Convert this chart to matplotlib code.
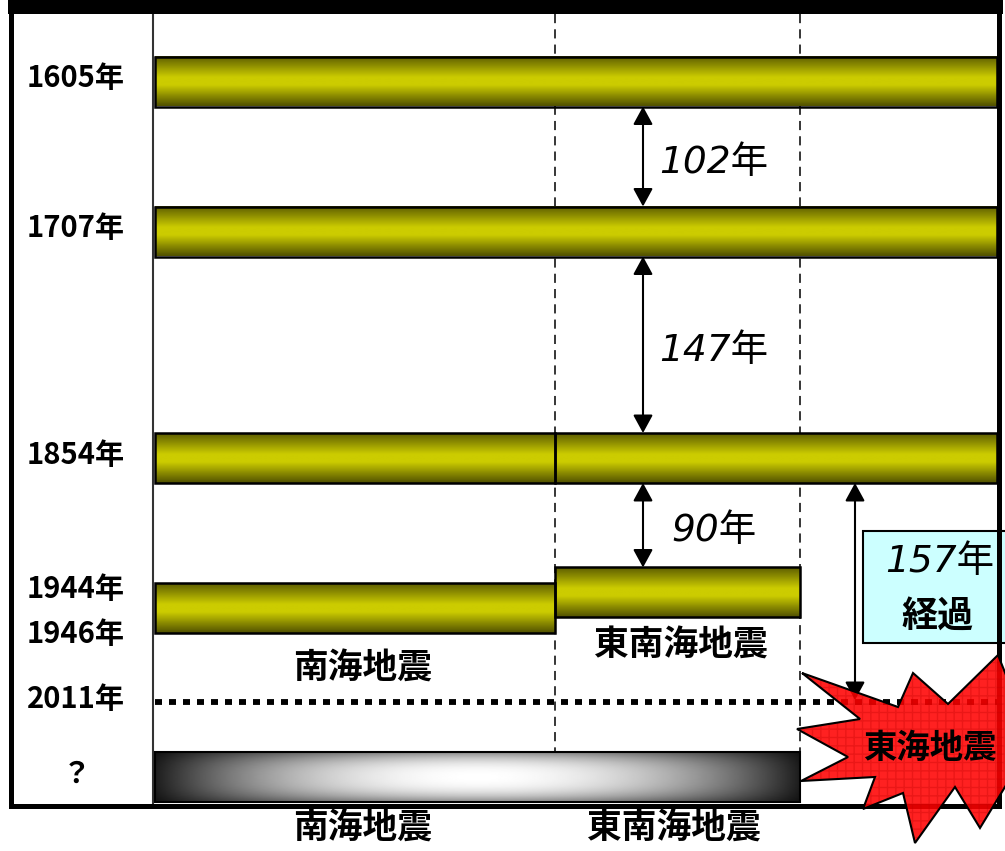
import numpy as np
import matplotlib.pyplot as plt
from matplotlib.colors import LinearSegmentedColormap
from matplotlib.patches import Rectangle, Polygon

plt.rcParams['font.family'] = ['Noto Sans CJK JP', 'DejaVu Sans']
ITALIC = ['DejaVu Sans', 'Noto Sans CJK JP']

# 地震の記録 (年, 開始区間, 終了区間)
eq_years = [1605, 1707, 1854, 1854, 1944, 1946]
eq_from = [0, 0, 0, 1, 1, 0]
eq_to = [3, 3, 1, 3, 2, 1]
zone_names = ['南海地震', '東南海地震', '東海地震']
now_year = 2011
future_from, future_to = 0, 2

# 左側の年ラベル
label_years = [1605, 1707, 1854, 1944, 1946, 2011, 2060]
label_texts = ['1605年', '1707年', '1854年', '1944年', '1946年', '2011年', '？']

# 間隔の矢印 (年 -> 年)
gap_from = [1605, 1707, 1854]
gap_to = [1707, 1854, 1944]

# 縦軸のスケール (年 -> 画面上の位置)
scale_years = [1500, 1605, 1707, 1854, 1944, 1946, 2011, 2060, 2200]
scale_pos = [-76, 81.5, 231.5, 458, 592.5, 608.5, 702, 777, 991]
zone_edges = [155, 555, 800, 997]

W, H = 1005, 851
fig = plt.figure(figsize=(W / 100, H / 100), dpi=100)

# 年のスケールを持つ軸
ax = fig.add_axes([0, 0, 1, 1])
fwd = lambda y: np.interp(y, scale_years, scale_pos)
inv = lambda p: np.interp(p, scale_pos, scale_years)
ax.set_yscale('function', functions=(fwd, inv))
ax.set_xlim(0, W)
ax.set_ylim(inv(H), inv(0))
ax.axis('off')

def ypx(year):
    return H - ax.transData.transform([(0, year)])[0, 1]

# 描画用の軸 (ピクセル座標)
ov = fig.add_axes([0, 0, 1, 1])
ov.set_autoscale_on(False)
ov.set_xlim(0, W)
ov.set_ylim(H, 0)
ov.axis('off')

olive = LinearSegmentedColormap.from_list('olive', [
    (0, '#5e5e00'), (0.42, '#cccc00'), (0.58, '#cccc00'), (1, '#525200')])
grad_v = np.linspace(0, 1, 64).reshape(-1, 1)
BAR_H = 50

def tube(x0, x1, yc):
    top, bot = yc - BAR_H / 2, yc + BAR_H / 2
    ov.imshow(grad_v, cmap=olive, extent=(x0, x1, bot, top), aspect='auto',
              interpolation='bilinear', zorder=3)
    ov.add_patch(Rectangle((x0, top), x1 - x0, BAR_H, fill=False,
                           ec='black', lw=1.8, zorder=4))

# 区切り線
ov.plot([153, 153], [14, 803], color='#333333', lw=1.5, zorder=2)
for xe in zone_edges[1:3]:
    ov.plot([xe, xe], [14, 808], color='black', lw=1.1,
            linestyle=(0, (6, 4)), zorder=2)

# 地震の帯
for yr, a, b in zip(eq_years, eq_from, eq_to):
    tube(zone_edges[a], zone_edges[b], ypx(yr))

# 将来 (？) の帯
yq = ypx(label_years[-1])
X, Y = np.meshgrid(np.linspace(-1, 1, 300), np.linspace(-1, 1, 60))
gray = (0.12 + 0.88 * (1 - np.abs(X) ** 2)) * (1 - 0.45 * np.abs(Y) ** 2.5)
ov.imshow(gray, cmap='gray', vmin=0, vmax=1,
          extent=(zone_edges[future_from], zone_edges[future_to], yq + BAR_H / 2, yq - BAR_H / 2),
          aspect='auto', interpolation='bilinear', zorder=3)
ov.add_patch(Rectangle((zone_edges[future_from], yq - BAR_H / 2),
                       zone_edges[future_to] - zone_edges[future_from], BAR_H,
                       fill=False, ec='black', lw=1.5, zorder=4))

# 2011年の点線
y_now = ypx(now_year)
ov.plot([155, 1000], [y_now, y_now], color='black', lw=4.2,
        linestyle=(0, (1.2, 1.2)), zorder=2)

# 間隔の矢印
arrow_kw = dict(arrowstyle='<|-|>,head_length=0.55,head_width=0.3',
                color='black', lw=1.5, shrinkA=0, shrinkB=0, mutation_scale=20)
for a, b in zip(gap_from, gap_to):
    y0 = ypx(a) + BAR_H / 2
    y1 = ypx(b) - BAR_H / 2
    ov.annotate('', xy=(643, y1), xytext=(643, y0), arrowprops=arrow_kw, zorder=5)
    ov.text(714, (y0 + y1) / 2 + 6, f'{b - a}年', fontsize=27, style='italic',
            family=ITALIC, ha='center', va='center', zorder=5)

# 経過年数
y0 = ypx(1854) + BAR_H / 2
ov.annotate('', xy=(855, y_now - 2), xytext=(855, y0), arrowprops=arrow_kw, zorder=5)
ov.add_patch(Rectangle((863, 531), 150, 112, fc='#ccffff', ec='black', lw=1.5, zorder=5))
ov.text(940, 562, f'{now_year - 1854}年', fontsize=27, style='italic',
        family=ITALIC, ha='center', va='center', zorder=6)
ov.text(938, 617, '経過', fontsize=26, style='italic', fontweight='bold',
        family=ITALIC, ha='center', va='center', zorder=6)

# 枠
ov.add_patch(Rectangle((10.5, 7), 988, 798.5, fill=False, ec='black', lw=3.6, zorder=7))
ov.add_patch(Rectangle((8, 0), 995, 14, fc='black', ec='none', zorder=7))

# 左の年ラベル
prev = -100
for yr, txt in zip(label_years, label_texts):
    y = max(ypx(yr), prev + 45)
    prev = y
    ov.text(76, y - 3, txt, fontsize=21, fontweight='bold',
            ha='center', va='center', zorder=6)

# 区間名
ov.text((zone_edges[0] + zone_edges[1]) / 2 + 8, ypx(1946) + BAR_H / 2 + 35,
        zone_names[0], fontsize=25, fontweight='bold', ha='center', va='center', zorder=6)
ov.text((zone_edges[1] + zone_edges[2]) / 2 + 3, ypx(1944) + BAR_H / 2 + 28,
        zone_names[1], fontsize=25, fontweight='bold', ha='center', va='center', zorder=6)
ov.text((zone_edges[0] + zone_edges[1]) / 2 + 8, 828, zone_names[0],
        fontsize=25, fontweight='bold', ha='center', va='center', zorder=6)
ov.text((zone_edges[1] + zone_edges[2]) / 2 - 4, 828, zone_names[1],
        fontsize=25, fontweight='bold', ha='center', va='center', zorder=6)

# 東海地震の爆発マーク
burst = [(802, 673), (898, 707), (913, 673), (948, 704), (998, 655), (1010, 685),
         (1045, 722), (1008, 782), (980, 828), (955, 787), (915, 843), (903, 793),
         (863, 809), (875, 777), (801, 781), (848, 757), (797, 729), (860, 719)]
ov.add_patch(Polygon(burst, closed=True, fc='#ff0000', alpha=0.87, ec='none', zorder=8))
ov.add_patch(Polygon(burst, closed=True, fill=False, hatch='++', ec=(0.75, 0, 0, 0.3),
                     lw=0, zorder=8))
ov.add_patch(Polygon(burst, closed=True, fill=False, ec='black', lw=1.5, zorder=9))
ov.text(930, 748, zone_names[2], fontsize=24, fontweight='bold',
        ha='center', va='center', zorder=10)

fig.savefig('out.png', dpi=100)
